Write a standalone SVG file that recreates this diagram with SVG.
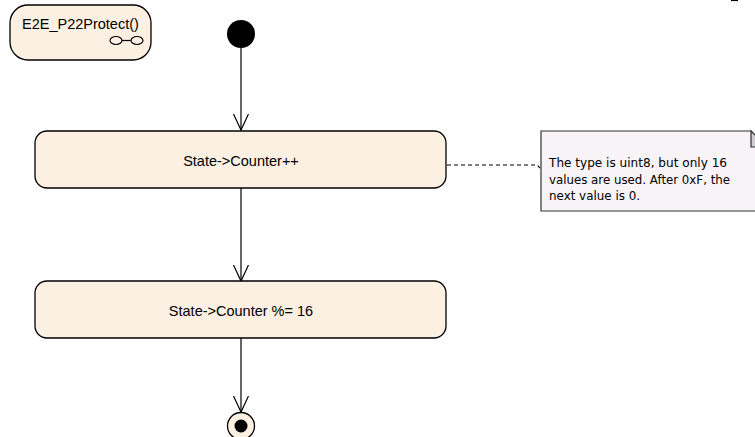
<svg xmlns="http://www.w3.org/2000/svg" width="755" height="437" viewBox="0 0 755 437">
<defs>
<style>
.act{fill:#fbf0e2;stroke:#000;stroke-width:1.3}
.lbl{font-family:"Liberation Sans",Arial,sans-serif;font-size:14.5px;fill:#000}
.note{font-family:"DejaVu Sans","Noto Sans",sans-serif;font-size:11.5px;fill:#000}
.edge{stroke:#000;stroke-width:1.2;fill:none}
</style>
<marker id="open" markerWidth="20" markerHeight="20" refX="16" refY="8" orient="auto" markerUnits="userSpaceOnUse">
<path d="M0,0.5 L16,8 L0,15.5" fill="none" stroke="#000" stroke-width="1.2"/>
</marker>
</defs>
<rect width="755" height="437" fill="#fff"/>
<line x1="731" y1="0.5" x2="738" y2="0.5" stroke="#000" stroke-width="1.2"/>
<g id="frame">
<rect x="10" y="5" width="141" height="55" rx="18" class="act"/>
<text x="22" y="29" class="lbl">E2E_P22Protect()</text>
<ellipse cx="116" cy="40.5" rx="6" ry="4" fill="none" stroke="#000" stroke-width="1.2"/>
<ellipse cx="137" cy="40.5" rx="6" ry="4" fill="none" stroke="#000" stroke-width="1.2"/>
<line x1="122" y1="40.5" x2="131" y2="40.5" stroke="#000" stroke-width="1.2"/>
</g>
<g id="connectors">
<line x1="241" y1="48" x2="241" y2="130" class="edge" marker-end="url(#open)"/>
<line x1="241" y1="188" x2="241" y2="281" class="edge" marker-end="url(#open)"/>
<line x1="241" y1="338" x2="241" y2="412" class="edge" marker-end="url(#open)"/>
<path d="M447,165 L537,165 L540,168" fill="none" stroke="#000" stroke-width="1.1" stroke-dasharray="4,3"/>
</g>
<g id="start">
<circle cx="241" cy="34" r="14" fill="#000"/>
</g>
<g id="action1">
<rect x="35" y="131" width="411" height="57" rx="12" class="act"/>
<text x="241" y="166" text-anchor="middle" class="lbl">State-&gt;Counter++</text>
</g>
<g id="action2">
<rect x="35" y="281" width="411" height="57" rx="12" class="act"/>
<text x="241" y="316" text-anchor="middle" class="lbl">State-&gt;Counter %= 16</text>
</g>
<g id="final">
<circle cx="241" cy="426" r="13.5" fill="#fbf0e2" stroke="#000" stroke-width="1.3"/>
<circle cx="241" cy="426" r="6.5" fill="#000"/>
</g>
<g id="note">
<path d="M541,131 L751,131 L767,147 L767,211 L541,211 Z" fill="#f7f3f6" stroke="#333" stroke-width="1.2"/>
<path d="M751,131 L751,147 L767,147 Z" fill="#d0cdd0" stroke="#333" stroke-width="1.2"/>
<text x="549" y="167" class="note" textLength="178" lengthAdjust="spacingAndGlyphs">The type is uint8, but only 16</text>
<text x="549" y="184" class="note" textLength="181" lengthAdjust="spacingAndGlyphs">values are used. After 0xF, the</text>
<text x="549" y="200" class="note" textLength="91" lengthAdjust="spacingAndGlyphs">next value is 0.</text>
</g>
</svg>
